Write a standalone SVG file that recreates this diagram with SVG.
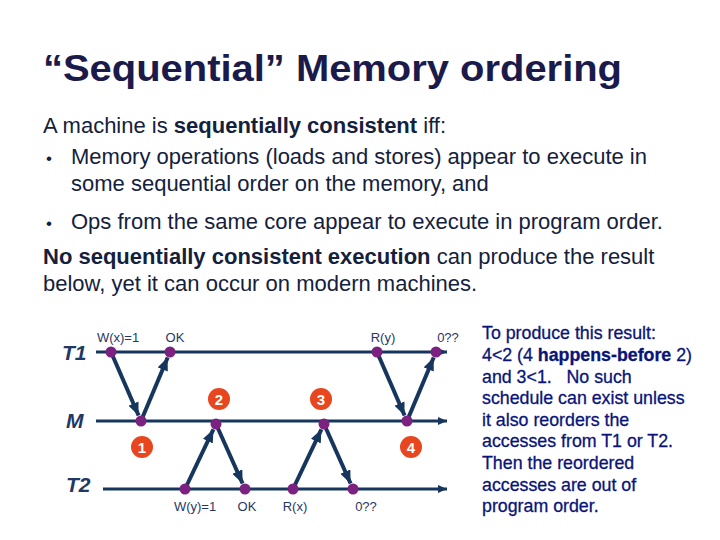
<svg xmlns="http://www.w3.org/2000/svg" width="720" height="540" viewBox="0 0 720 540">
<defs>
<style>
.title{font-family:"Liberation Sans",Arial,sans-serif;font-weight:bold;font-size:36px;fill:#1b1b4b}
.body{font-family:"Liberation Sans",Arial,sans-serif;font-size:22px;fill:#14213d}
.bul{font-family:"Liberation Sans",Arial,sans-serif;font-size:17px;fill:#14213d}
.b{font-weight:bold}
.side{font-family:"Liberation Sans",Arial,sans-serif;font-size:17.8px;fill:#0a1478;stroke:#0a1478;stroke-width:0.3;white-space:pre}
.lane{font-family:"Liberation Sans",Arial,sans-serif;font-size:21px;font-weight:bold;font-style:italic;fill:#1f3864}
.op{font-family:"Liberation Sans",Arial,sans-serif;font-size:13px;fill:#1f3864;text-anchor:middle}
.hline{stroke:#17365d;stroke-width:3;fill:none}
.arr{stroke:#17365d;stroke-width:4;fill:none;marker-end:url(#ah)}
.dot{fill:#7b2281}
.badge circle{fill:#e8461e}
.badge text{font-family:"Liberation Sans",Arial,sans-serif;font-size:15px;font-weight:bold;fill:#ffffff;text-anchor:middle}
</style>
<marker id="ah" markerUnits="userSpaceOnUse" markerWidth="13" markerHeight="11" viewBox="0 0 13 11" refX="13" refY="5.5" orient="auto">
<path d="M0,0 L13,5.5 L0,11 z" fill="#17365d"/>
</marker>
<marker id="ahs" markerUnits="userSpaceOnUse" markerWidth="9" markerHeight="8" viewBox="0 0 9 8" refX="9" refY="4" orient="auto">
<path d="M0,0 L9,4 L0,8 z" fill="#17365d"/>
</marker>
</defs>
<rect width="720" height="540" fill="#ffffff"/>

<text class="title" x="43" y="81" textLength="579" lengthAdjust="spacingAndGlyphs">“Sequential” Memory ordering</text>

<g id="intro">
<text class="body" x="43" y="133">A machine is <tspan class="b">sequentially consistent</tspan> iff:</text>
<text class="bul" x="46" y="164">•</text>
<text class="body" x="71" y="164">Memory operations (loads and stores) appear to execute in</text>
<text class="body" x="71" y="191">some sequential order on the memory, and</text>
<text class="bul" x="46" y="229">•</text>
<text class="body" x="71" y="229">Ops from the same core appear to execute in program order.</text>
<text class="body" x="43" y="264"><tspan class="b">No sequentially consistent execution</tspan> can produce the result</text>
<text class="body" x="43" y="291">below, yet it can occur on modern machines.</text>
</g>

<g id="lanes">
<g id="lane-T1"><text class="lane" x="62" y="360">T1</text><line class="hline" x1="96" y1="352" x2="447" y2="352" marker-end="url(#ahs)"/></g>
<g id="lane-M"><text class="lane" x="66" y="428">M</text><line class="hline" x1="96" y1="421" x2="447" y2="421" marker-end="url(#ahs)"/></g>
<g id="lane-T2"><text class="lane" x="66" y="492">T2</text><line class="hline" x1="103" y1="489" x2="447" y2="489" marker-end="url(#ahs)"/></g>
</g>

<g id="connectors">
<line class="arr" x1="111" y1="352" x2="138.6" y2="415.5"/>
<line class="arr" x1="141" y1="421" x2="167.7" y2="357.5"/>
<line class="arr" x1="185" y1="489" x2="213.4" y2="429.4"/>
<line class="arr" x1="216" y1="424" x2="242.6" y2="483.5"/>
<line class="arr" x1="293" y1="489" x2="321.4" y2="429.4"/>
<line class="arr" x1="324" y1="424" x2="350.6" y2="483.5"/>
<line class="arr" x1="377" y1="352" x2="404.6" y2="415.5"/>
<line class="arr" x1="407" y1="421" x2="433.7" y2="357.5"/>
</g>

<g id="op-wx"><circle class="dot" cx="111" cy="352" r="5.5"/><text class="op" x="118" y="342">W(x)=1</text></g>
<g id="op-ok1"><circle class="dot" cx="170" cy="352" r="5.5"/><text class="op" x="175" y="342">OK</text></g>
<g id="op-ry"><circle class="dot" cx="377" cy="352" r="5.5"/><text class="op" x="383" y="342">R(y)</text></g>
<g id="op-r1"><circle class="dot" cx="436" cy="352" r="5.5"/><text class="op" x="448" y="342">0??</text></g>
<g id="mem-1"><circle class="dot" cx="141" cy="421" r="5.5"/></g>
<g id="mem-2"><circle class="dot" cx="216" cy="424" r="5.5"/></g>
<g id="mem-3"><circle class="dot" cx="324" cy="424" r="5.5"/></g>
<g id="mem-4"><circle class="dot" cx="407" cy="421" r="5.5"/></g>
<g id="op-wy"><circle class="dot" cx="185" cy="489" r="5.5"/><text class="op" x="195" y="511">W(y)=1</text></g>
<g id="op-ok2"><circle class="dot" cx="245" cy="489" r="5.5"/><text class="op" x="247" y="511">OK</text></g>
<g id="op-rx"><circle class="dot" cx="293" cy="489" r="5.5"/><text class="op" x="295" y="511">R(x)</text></g>
<g id="op-r2"><circle class="dot" cx="353" cy="489" r="5.5"/><text class="op" x="366" y="511">0??</text></g>

<g id="badge-1" class="badge"><circle cx="142" cy="447" r="11"/><text x="142" y="452.5">1</text></g>
<g id="badge-2" class="badge"><circle cx="219" cy="399" r="11"/><text x="219" y="404.5">2</text></g>
<g id="badge-3" class="badge"><circle cx="321" cy="399" r="11"/><text x="321" y="404.5">3</text></g>
<g id="badge-4" class="badge"><circle cx="411" cy="447" r="11"/><text x="411" y="452.5">4</text></g>

<g id="note">
<text class="side" x="482" y="339">To produce this result:</text>
<text class="side" x="482" y="361">4&lt;2 (4 <tspan font-weight="bold">happens-before</tspan> 2)</text>
<text class="side" x="482" y="383">and 3&lt;1.   No such</text>
<text class="side" x="482" y="404">schedule can exist unless</text>
<text class="side" x="482" y="426">it also reorders the</text>
<text class="side" x="482" y="447">accesses from T1 or T2.</text>
<text class="side" x="482" y="469">Then the reordered</text>
<text class="side" x="482" y="491">accesses are out of</text>
<text class="side" x="482" y="512">program order.</text>
</g>
</svg>
